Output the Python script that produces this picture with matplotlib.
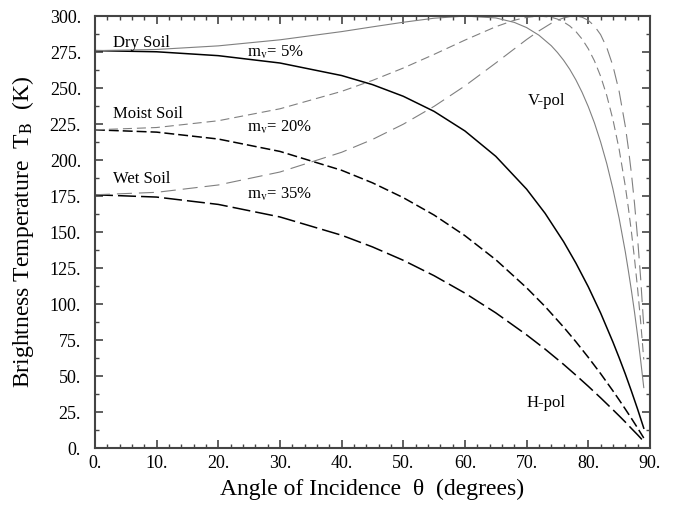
import numpy as np
import matplotlib
matplotlib.use("Agg")
import matplotlib.pyplot as plt
from matplotlib.ticker import MultipleLocator

# data (angle in degrees, brightness temp in K)
# H-pol curves
theta_h = [0, 10, 20, 30, 40, 45, 50, 55, 60, 65, 70, 73, 76, 78, 80, 82, 84, 85, 86, 87, 88, 89]
dry_h = [276.0, 275.2, 272.5, 267.4, 258.7, 252.4, 244.3, 233.8, 220.2, 202.6, 179.8,
         163.0, 143.3, 128.4, 112.0, 93.8, 73.6, 62.8, 51.5, 39.5, 27.0, 13.8]
moist_h = [221.0, 219.4, 214.6, 206.0, 192.9, 184.2, 173.9, 161.8, 147.5, 130.8, 111.3,
           98.3, 84.0, 73.8, 63.0, 51.7, 39.7, 33.5, 27.1, 20.6, 13.9, 7.0]
wet_h = [175.9, 174.3, 169.2, 160.5, 147.8, 139.7, 130.4, 119.7, 107.6, 93.9, 78.6,
         68.7, 58.1, 50.6, 42.9, 34.9, 26.6, 22.4, 18.1, 13.6, 9.2, 4.6]

# V-pol curves (denser near the peak / drop-off)
theta_v = [0, 10, 20, 30, 40, 45, 50, 55, 60, 65, 68, 70, 72, 74, 75, 76, 77, 78, 79, 80,
           81, 82, 83, 84, 85, 86, 86.5, 87, 87.5, 88, 88.5, 89]
dry_v = [276.0, 276.8, 279.3, 283.5, 289.2, 292.5, 295.7, 298.5, 300.0, 298.7, 295.6,
         292.0, 286.7, 279.4, 274.7, 269.3, 263.0, 255.6, 247.0, 237.1, 225.8, 212.6,
         197.5, 179.9, 159.7, 136.4, 123.2, 109.3, 94.3, 78.1, 60.7, 42.0]
moist_v = [221.0, 222.6, 227.3, 235.6, 247.7, 255.3, 263.9, 273.4, 283.3, 292.6, 297.1,
           299.1, 300.0, 299.2, 297.9, 295.9, 293.1, 289.2, 284.0, 277.3, 268.9, 258.2,
           244.8, 228.1, 207.6, 182.0, 166.8, 150.0, 131.4, 110.6, 87.5, 61.5]
wet_v = [175.9, 177.6, 182.7, 191.7, 205.4, 214.3, 224.9, 237.3, 251.5, 267.4, 277.2,
         283.7, 289.7, 295.0, 297.1, 298.7, 299.7, 300.0, 299.2, 297.0, 293.1, 287.1,
         278.1, 265.4, 247.8, 223.6, 208.2, 190.5, 169.8, 145.6, 117.5, 84.3]

xticks = [0, 10, 20, 30, 40, 50, 60, 70, 80, 90]
xtick_labels = ['0.', '10.', '20.', '30.', '40.', '50.', '60.', '70.', '80.', '90.']
yticks = [0, 25, 50, 75, 100, 125, 150, 175, 200, 225, 250, 275, 300]
ytick_labels = ['0.', '25.', '50.', '75.', '100.', '125.', '150.', '175.', '200.',
                '225.', '250.', '275.', '300.']

plt.rcParams['font.family'] = ['Liberation Serif', 'DejaVu Serif']
plt.rcParams['mathtext.fontset'] = 'stix'

fig = plt.figure(figsize=(6.83, 5.18), dpi=100)
ax = fig.add_axes([0.139, 0.135, 0.8126, 0.834])

black = 'black'
gray = '#808080'

# H-pol (black)
ax.plot(theta_h, dry_h, color=black, lw=1.1)
ax.plot(theta_h, moist_h, color=black, lw=1.1, dashes=(6.5, 2.6))
ax.plot(theta_h, wet_h, color=black, lw=1.1, dashes=(11.8, 3.3))
# V-pol (gray)
ax.plot(theta_v, dry_v, color=gray, lw=0.8)
ax.plot(theta_v, moist_v, color=gray, lw=0.8, dashes=(8.1, 4.5))
ax.plot(theta_v, wet_v, color=gray, lw=0.8, dashes=(13.5, 6.3))

ax.set_xlim(0, 90)
ax.set_ylim(0, 300)

ax.set_xticks(xticks)
ax.set_xticklabels(xtick_labels)
ax.set_yticks(yticks)
ax.set_yticklabels(ytick_labels)
ax.xaxis.set_minor_locator(MultipleLocator(2))
ax.yaxis.set_minor_locator(MultipleLocator(12.5))

frame = '#444444'
for s in ax.spines.values():
    s.set_linewidth(1.5)
    s.set_color(frame)
ax.tick_params(which='both', direction='in', top=True, right=True, color=frame,
               labelsize=13)
ax.tick_params(which='major', length=6, width=1.2)
ax.tick_params(which='minor', length=3, width=1.0)
ax.tick_params(axis='x', pad=5)
ax.tick_params(axis='y', pad=10)

ax.set_xlabel('Angle of Incidence  θ  (degrees)', fontsize=17, labelpad=5)
ax.set_ylabel(r'Brightness Temperature  T$_{\rm B}$  (K)', fontsize=17, labelpad=10)

# annotations
fs = 12
ax.text(2.9, 278.5, 'Dry Soil', fontsize=fs, va='baseline')
ax.text(24.6, 271.7, r'm$_{\rm v}$= 5%', fontsize=fs, va='baseline')
ax.text(2.9, 229.0, 'Moist Soil', fontsize=fs, va='baseline')
ax.text(24.6, 219.7, r'm$_{\rm v}$= 20%', fontsize=fs, va='baseline')
ax.text(2.9, 183.8, 'Wet Soil', fontsize=fs, va='baseline')
ax.text(24.6, 173.4, r'm$_{\rm v}$= 35%', fontsize=fs, va='baseline')
ax.text(70.2, 238.0, 'V-pol', fontsize=fs, va='baseline')
ax.text(70.0, 28.5, 'H-pol', fontsize=fs, va='baseline')

fig.savefig('out.png', dpi=100)
